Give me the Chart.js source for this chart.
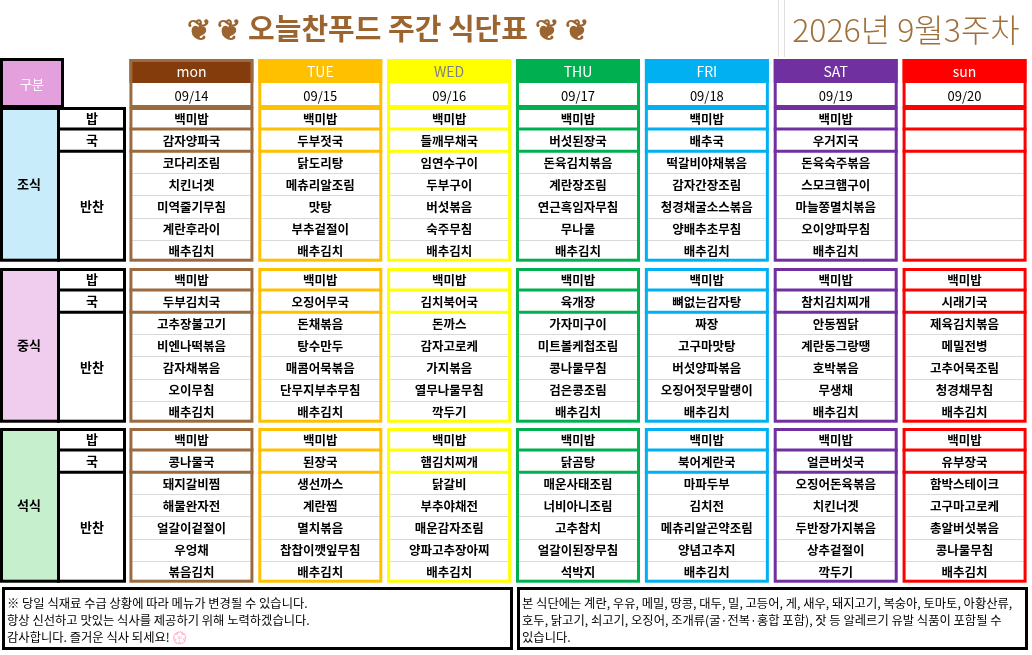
<!DOCTYPE html>
<html><head><meta charset="utf-8">
<script src="https://cdn.jsdelivr.net/npm/chart.js@4"></script>
<style>html,body{margin:0;padding:0;background:#fff}#w{width:1032px;height:655px}</style>
</head><body><div id="w"><canvas id="c" width="1032" height="655"></canvas></div>
<script>
const days=["MON","TUE","WED","THU","FRI","SAT","SUN"];
const dates=["09/14","09/15","09/16","09/17","09/18","09/19","09/20"];
const headColors=["#843c0c","#ffc000","#ffff00","#00b050","#00b0f0","#7030a0","#ff0000"];
const borderColors=["#9c6a3f","#ffc000","#ffff00","#00b050","#00b0f0","#7030a0","#ff0000"];
const headText=["#ffffff","#ffffff","#808080","#ffffff","#ffffff","#ffffff","#ffffff"];
const meals=["조식","중식","석식"];
const mealColors=["#c9ecfb","#f0cdee","#c6efce"];
const rowLabels=["밥","국","반찬"];
const breakfast=[
["백미밥","감자양파국","코다리조림","치킨너겟","미역줄기무침","계란후라이","배추김치"],
["백미밥","두부젓국","닭도리탕","메츄리알조림","맛탕","부추겉절이","배추김치"],
["백미밥","들깨무채국","임연수구이","두부구이","버섯볶음","숙주무침","배추김치"],
["백미밥","버섯된장국","돈육김치볶음","계란장조림","연근흑임자무침","무나물","배추김치"],
["백미밥","배추국","떡갈비야채볶음","감자간장조림","청경채굴소스볶음","양배추초무침","배추김치"],
["백미밥","우거지국","돈육숙주볶음","스모크햄구이","마늘쫑멸치볶음","오이양파무침","배추김치"],
["","","","","","",""]];
const lunch=[
["백미밥","두부김치국","고추장불고기","비엔나떡볶음","감자채볶음","오이무침","배추김치"],
["백미밥","오징어무국","돈채볶음","탕수만두","매콤어묵볶음","단무지부추무침","배추김치"],
["백미밥","김치북어국","돈까스","감자고로케","가지볶음","열무나물무침","깍두기"],
["백미밥","육개장","가자미구이","미트볼케첩조림","콩나물무침","검은콩조림","배추김치"],
["백미밥","뼈없는감자탕","짜장","고구마맛탕","버섯양파볶음","오징어젓무말랭이","배추김치"],
["백미밥","참치김치찌개","안동찜닭","계란동그랑땡","호박볶음","무생채","배추김치"],
["백미밥","시래기국","제육김치볶음","메밀전병","고추어묵조림","청경채무침","배추김치"]];
const dinner=[
["백미밥","콩나물국","돼지갈비찜","해물완자전","얼갈이겉절이","우엉채","볶음김치"],
["백미밥","된장국","생선까스","계란찜","멸치볶음","찹찹이깻잎무침","배추김치"],
["백미밥","햄김치찌개","닭갈비","부추야채전","매운감자조림","양파고추장아찌","배추김치"],
["백미밥","닭곰탕","매운사태조림","너비아니조림","고추참치","얼갈이된장무침","석박지"],
["백미밥","북어계란국","마파두부","김치전","메츄리알곤약조림","양념고추지","배추김치"],
["백미밥","얼큰버섯국","오징어돈육볶음","치킨너겟","두반장가지볶음","상추겉절이","깍두기"],
["백미밥","유부장국","함박스테이크","고구마고로케","총알버섯볶음","콩나물무침","배추김치"]];
const menus=[breakfast,lunch,dinner];
const title="❦ ❦ 오늘찬푸드 주간 식단표 ❦ ❦";
const weekLabel="2026년 9월3주차";
const noteLeft=["※ 당일 식재료 수급 상황에 따라 메뉴가 변경될 수 있습니다.","항상 신선하고 맛있는 식사를 제공하기 위해 노력하겠습니다.","감사합니다. 즐거운 식사 되세요! 💮"];
const noteRight=["본 식단에는 계란, 우유, 메밀, 땅콩, 대두, 밀, 고등어, 게, 새우, 돼지고기, 복숭아, 토마토, 아황산류,","호두, 닭고기, 쇠고기, 오징어, 조개류(굴·전복·홍합 포함), 잣 등 알레르기 유발 식품이 포함될 수","있습니다."];

const F='"Noto Sans CJK KR","Noto Sans",sans-serif';
const blockTops=[107,268,428], RH=22.1;
const tablePlugin={id:'table',afterDatasetsDraw(ch){
  const c=ch.ctx,x=ch.scales.x,y=ch.scales.y;
  const Y=v=>y.getPixelForValue(v);
  c.save();
  c.strokeStyle="#e0e0e0";c.lineWidth=1;
  c.beginPath();c.moveTo(778.5,0);c.lineTo(778.5,57);c.moveTo(784.5,0);c.lineTo(784.5,57);c.stroke();
  c.fillStyle="#9c6530";c.textAlign="center";c.textBaseline="middle";
  c.font='bold 29px '+F;c.fillText(title,388,29);
  c.font='300 32px '+F;c.fillStyle="#a0703c";c.fillText(weekLabel,906,30);
  c.fillStyle="#e4a0dc";c.fillRect(1,59,62,48);
  c.strokeStyle="#000";c.lineWidth=3;c.strokeRect(1.5,59.5,61,47);
  c.fillStyle="#fff";c.font='13px '+F;c.fillText("구분",32,84);
  days.forEach((d,i)=>{
    const cx=x.getPixelForValue(i),l=cx-62;
    c.fillStyle=headText[i];c.font='14px '+F;
    c.fillText(i==0||i==6?d.toLowerCase():d,cx,72);
    c.fillStyle="#000";c.font='13px '+F;c.fillText(dates[i],cx,96);
    c.strokeStyle=borderColors[i];c.lineWidth=3;c.strokeRect(l+1.5,Y(59)+1.5,121,46);
  });
  blockTops.forEach((t,b)=>{
    const bottom=t+RH*7;
    c.fillStyle=mealColors[b];c.fillRect(1,t,57,RH*7);
    c.fillStyle="#000";c.font='bold 13px '+F;c.textAlign="center";
    c.fillText(meals[b],29,(t+bottom)/2);
    c.fillText(rowLabels[0],92,t+RH/2);c.fillText(rowLabels[1],92,t+RH*1.5);c.fillText(rowLabels[2],92,t+RH*4.5);
    c.strokeStyle="#000";c.lineWidth=3;
    c.strokeRect(1.5,t+1.5,123,RH*7-3);
    c.beginPath();c.moveTo(58.5,t);c.lineTo(58.5,bottom);
    c.moveTo(58,t+RH);c.lineTo(125,t+RH);c.moveTo(58,t+RH*2);c.lineTo(125,t+RH*2);c.stroke();
    days.forEach((d,i)=>{
      const cx=x.getPixelForValue(i),l=cx-62;
      c.strokeStyle="#d9d9d9";c.lineWidth=1;c.beginPath();
      for(let k=3;k<7;k++){c.moveTo(l+3,Math.round(t+RH*k)+.5);c.lineTo(l+121,Math.round(t+RH*k)+.5);}
      c.stroke();
      c.strokeStyle=borderColors[i];c.lineWidth=3;
      c.strokeRect(l+1.5,t+1.5,121,RH*7-3);
      c.beginPath();c.moveTo(l,t+RH);c.lineTo(l+124,t+RH);c.moveTo(l,t+RH*2);c.lineTo(l+124,t+RH*2);c.stroke();
      c.fillStyle="#000";c.font='bold 12.5px '+F;
      menus[b][i].forEach((m,k)=>{if(m)c.fillText(m,cx,t+RH*k+RH/2+1);});
    });
  });
  c.strokeStyle="#000";c.lineWidth=3;
  c.strokeRect(3.5,588.5,508,60);c.strokeRect(518.5,588.5,508,60);
  c.fillStyle="#000";c.textAlign="left";c.font='12.3px '+F;
  noteLeft.forEach((s,k)=>c.fillText(s,7,603+k*17));
  noteRight.forEach((s,k)=>c.fillText(s,522,603+k*17));
  c.restore();
}};
new Chart(document.getElementById('c'),{
  type:'bar',
  data:{labels:days,datasets:[{data:days.map(()=>[59,83]),backgroundColor:headColors,borderWidth:0,barPercentage:124/129,categoryPercentage:1}]},
  options:{responsive:false,animation:false,events:[],
    layout:{padding:{left:127,right:3,top:0,bottom:0}},
    plugins:{legend:{display:false},tooltip:{enabled:false}},
    scales:{x:{type:'category',offset:true,display:false},
            y:{type:'linear',min:0,max:655,reverse:true,display:false}}},
  plugins:[tablePlugin]
});
</script></body></html>
